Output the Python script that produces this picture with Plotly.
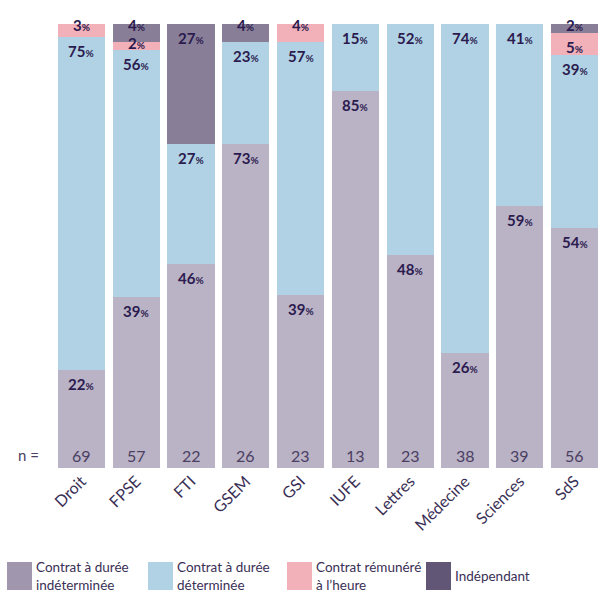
import plotly.graph_objects as go

# Faculties and sample sizes
facultes = ["Droit", "FPSE", "FTI", "GSEM", "GSI", "IUFE", "Lettres", "Médecine", "Sciences", "SdS"]
effectifs = [69, 57, 22, 26, 23, 13, 23, 38, 39, 56]

# Share of each contract type (%), stacked bottom to top
cdi = [22, 39, 46, 73, 39, 85, 48, 26, 59, 54]
cdd = [75, 56, 27, 23, 57, 15, 52, 74, 41, 39]
horaire = [3, 2, 0, 0, 4, 0, 0, 0, 0, 5]
independant = [0, 4, 27, 4, 0, 0, 0, 0, 0, 2]

series = [
    ("Contrat à durée<br>indéterminée", cdi, "#bab2c5", "#a097ae"),
    ("Contrat à durée<br>déterminée", cdd, "#b0d2e4", "#b0d2e4"),
    ("Contrat rémunéré<br>à l’heure", horaire, "#f2b1b9", "#f2b1b9"),
    ("Indépendant", independant, "#887e97", "#625676"),
]

FONT = "Lato"
TXT = "#2b1b4f"
GREY = "#4a4062"

fig = go.Figure()
for name, vals, col, _ in series:
    fig.add_trace(go.Bar(
        x=facultes, y=vals, name=name,
        marker=dict(color=col, line=dict(width=0)),
        showlegend=False, hoverinfo="x+y",
    ))

annotations = []
totals = [sum(s[1][i] for s in series) for i in range(len(facultes))]
cum = [0.0] * len(facultes)
for name, vals, _, _ in series:
    for i, v in enumerate(vals):
        cum[i] += v
        if v <= 0:
            continue
        top = cum[i] / totals[i] * 100
        annotations.append(dict(
            x=facultes[i], y=top, xref="x", yref="y",
            text=f"<b>{v}<span style='font-size:10px'>%</span></b>",
            showarrow=False, yanchor="middle",
            yshift=-1 if v < 5 else -14,
            font=dict(family=FONT, size=15, color=TXT),
        ))

# sample sizes at the foot of each bar
for f, n in zip(facultes, effectifs):
    annotations.append(dict(
        x=f, y=0, xref="x", yref="y", text=str(n), showarrow=False,
        yanchor="middle", yshift=13,
        font=dict(family=FONT, size=16, color=GREY),
    ))
annotations.append(dict(
    x=-0.047, y=0, xref="paper", yref="y", text="n =", showarrow=False,
    xanchor="center", yanchor="middle", yshift=13,
    font=dict(family=FONT, size=15, color=GREY),
))

# custom legend below the chart
shapes = []
leg_x = [7, 148, 287, 426]
plot_l, plot_w, plot_top, plot_h = 54, 548, 24, 444


def px_to_paper_x(px):
    return (px - plot_l) / plot_w


def px_to_paper_y(py):
    return (plot_top + plot_h - py) / plot_h


for (name, _, _, lcol), lx in zip(series, leg_x):
    shapes.append(dict(
        type="rect", xref="paper", yref="paper",
        x0=px_to_paper_x(lx), x1=px_to_paper_x(lx + 25),
        y0=px_to_paper_y(590), y1=px_to_paper_y(562),
        fillcolor=lcol, line=dict(width=0), layer="above",
    ))
    annotations.append(dict(
        x=px_to_paper_x(lx + 27), y=px_to_paper_y(576), xref="paper", yref="paper",
        text=name, showarrow=False, xanchor="left", yanchor="middle", align="left",
        font=dict(family=FONT, size=13.5, color="#3a2f55"),
    ))

fig.update_layout(
    width=616, height=594,
    margin=dict(l=plot_l, r=616 - plot_l - plot_w, t=plot_top, b=594 - plot_top - plot_h),
    barmode="stack", barnorm="percent", bargap=0.14,
    plot_bgcolor="white", paper_bgcolor="white",
    annotations=annotations, shapes=shapes,
    font=dict(family=FONT),
)
fig.update_xaxes(
    tickangle=-45, showgrid=False, showline=False, ticks="",
    tickfont=dict(family=FONT, size=16, color="#3a2f55"),
)
fig.update_yaxes(range=[0, 100], visible=False, showgrid=False)

fig.write_html("out.html")
